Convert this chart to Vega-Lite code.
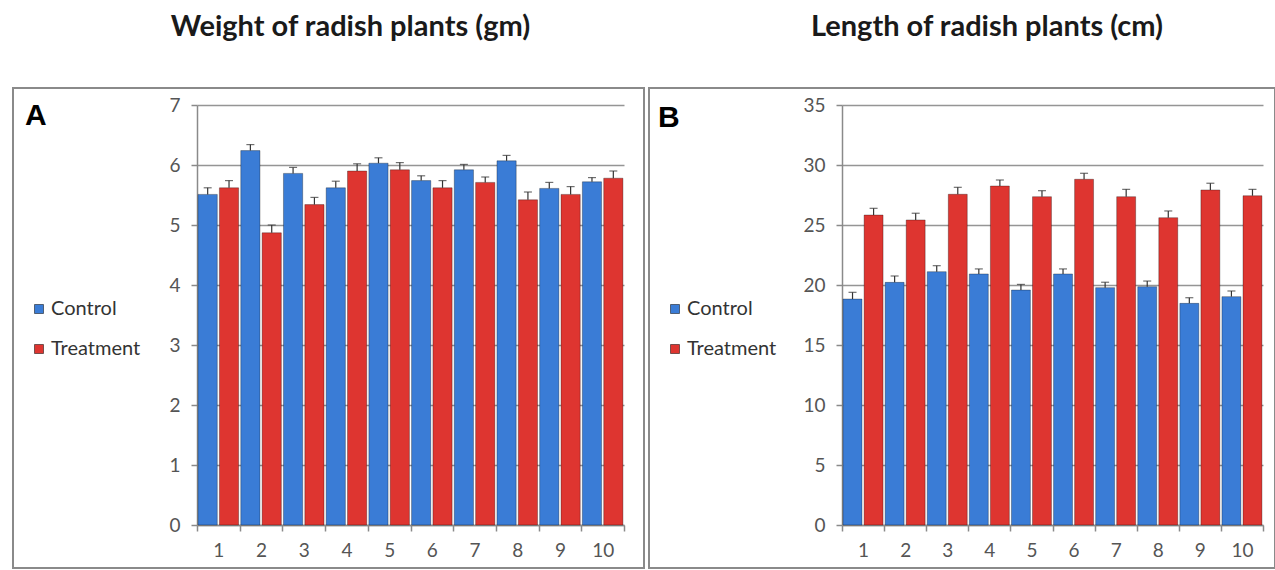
{
  "$schema": "https://vega.github.io/schema/vega-lite/v6.json",
  "padding": {"left": 12, "top": 12, "right": 0, "bottom": 0},
  "background": "white",
  "config": {
    "view": {"stroke": "#8a8a8a", "strokeWidth": 2},
    "font": "Lato",
    "axis": {"labelFont": "Lato", "labelFontSize": 19, "labelColor": "#555555", "domainColor": "#8a8a8a", "domainWidth": 1.5, "tickColor": "#8a8a8a", "tickWidth": 1.5, "tickSize": 6, "gridColor": "#959595", "gridWidth": 1.6}
  },
  "datasets": {
    "weight": [
      {"rep": 1, "group": "Control", "value": 5.51, "hi": 5.62},
      {"rep": 1, "group": "Treatment", "value": 5.62, "hi": 5.74},
      {"rep": 2, "group": "Control", "value": 6.24, "hi": 6.34},
      {"rep": 2, "group": "Treatment", "value": 4.87, "hi": 5.0},
      {"rep": 3, "group": "Control", "value": 5.86, "hi": 5.96},
      {"rep": 3, "group": "Treatment", "value": 5.34, "hi": 5.46},
      {"rep": 4, "group": "Control", "value": 5.62, "hi": 5.73},
      {"rep": 4, "group": "Treatment", "value": 5.9, "hi": 6.02},
      {"rep": 5, "group": "Control", "value": 6.03, "hi": 6.12},
      {"rep": 5, "group": "Treatment", "value": 5.92, "hi": 6.04},
      {"rep": 6, "group": "Control", "value": 5.74, "hi": 5.82},
      {"rep": 6, "group": "Treatment", "value": 5.62, "hi": 5.74},
      {"rep": 7, "group": "Control", "value": 5.92, "hi": 6.01},
      {"rep": 7, "group": "Treatment", "value": 5.71, "hi": 5.8},
      {"rep": 8, "group": "Control", "value": 6.07, "hi": 6.16},
      {"rep": 8, "group": "Treatment", "value": 5.42, "hi": 5.55},
      {"rep": 9, "group": "Control", "value": 5.61, "hi": 5.71},
      {"rep": 9, "group": "Treatment", "value": 5.51, "hi": 5.64},
      {"rep": 10, "group": "Control", "value": 5.72, "hi": 5.79},
      {"rep": 10, "group": "Treatment", "value": 5.78, "hi": 5.9}
    ],
    "length": [
      {"rep": 1, "group": "Control", "value": 18.83, "hi": 19.39},
      {"rep": 1, "group": "Treatment", "value": 25.83, "hi": 26.39},
      {"rep": 2, "group": "Control", "value": 20.22, "hi": 20.75},
      {"rep": 2, "group": "Treatment", "value": 25.42, "hi": 25.98},
      {"rep": 3, "group": "Control", "value": 21.11, "hi": 21.61},
      {"rep": 3, "group": "Treatment", "value": 27.56, "hi": 28.14},
      {"rep": 4, "group": "Control", "value": 20.92, "hi": 21.34},
      {"rep": 4, "group": "Treatment", "value": 28.25, "hi": 28.75},
      {"rep": 5, "group": "Control", "value": 19.58, "hi": 20.05},
      {"rep": 5, "group": "Treatment", "value": 27.36, "hi": 27.86},
      {"rep": 6, "group": "Control", "value": 20.92, "hi": 21.34},
      {"rep": 6, "group": "Treatment", "value": 28.81, "hi": 29.31},
      {"rep": 7, "group": "Control", "value": 19.78, "hi": 20.23},
      {"rep": 7, "group": "Treatment", "value": 27.36, "hi": 27.97},
      {"rep": 8, "group": "Control", "value": 19.86, "hi": 20.33},
      {"rep": 8, "group": "Treatment", "value": 25.61, "hi": 26.17},
      {"rep": 9, "group": "Control", "value": 18.47, "hi": 18.94},
      {"rep": 9, "group": "Treatment", "value": 27.92, "hi": 28.48},
      {"rep": 10, "group": "Control", "value": 19.03, "hi": 19.5},
      {"rep": 10, "group": "Treatment", "value": 27.44, "hi": 27.97}
    ]
  },
  "spacing": 5,
  "bounds": "flush",
  "resolve": {
    "scale": {"color": "independent", "x": "independent", "y": "independent", "xOffset": "independent"},
    "legend": {"color": "independent"},
    "axis": {"x": "independent", "y": "independent"}
  },
  "hconcat": [
    {
      "width": 631,
      "height": 480,
      "title": {"text": "Weight of radish plants (gm)", "font": "Lato", "fontSize": 29, "fontWeight": "bold", "color": "#1a1a1a", "offset": 46, "dx": 22, "anchor": "middle"},
      "data": {"name": "weight"},
      "encoding": {
        "x": {"field": "rep", "type": "ordinal", "scale": {"range": [184, 611], "paddingInner": 0, "paddingOuter": 0},
              "axis": {"orient": "bottom", "offset": -43, "labelAngle": 0, "tickBand": "extent", "labelPadding": 10, "labelFontSize": 19, "grid": false, "title": null}},
        "xOffset": {"field": "group", "type": "nominal", "scale": {"domain": ["Control", "Treatment"], "paddingInner": 0.1, "paddingOuter": 0.05}}
      },
      "layer": [
        {
          "mark": {"type": "bar", "stroke": "#000000", "strokeOpacity": 0.3, "strokeWidth": 1},
          "encoding": {
            "y": {"field": "value", "type": "quantitative", "scale": {"domain": [0, 7], "range": [437, 17], "nice": false, "zero": true},
                  "axis": {"orient": "left", "offset": -184, "values": [0, 1, 2, 3, 4, 5, 6, 7], "format": "d", "grid": true, "labelPadding": 11, "labelFontSize": 19, "title": null}},
            "color": {"field": "group", "type": "nominal", "scale": {"domain": ["Control", "Treatment"], "range": ["#3A7CD6", "#DE3530"]},
                      "legend": {"orient": "none", "legendX": 12, "legendY": 13, "title": "A", "titleFont": "Liberation Sans", "titleFontSize": 30, "titleFontWeight": "bold", "titleColor": "#000000", "titlePadding": 168, "titleBaseline": "top",
                                 "symbolType": "square", "symbolSize": 81, "symbolStrokeWidth": 0.5, "symbolOffset": 4, "labelFont": "Lato", "labelFontSize": 20, "labelColor": "#333333", "labelOffset": 2, "rowPadding": 20, "padding": 0}}
          }
        },
        {
          "mark": {"type": "rule", "color": "#333333", "strokeWidth": 1.2},
          "encoding": {"y": {"field": "value", "type": "quantitative"}, "y2": {"field": "hi"}}
        },
        {
          "mark": {"type": "tick", "color": "#333333", "thickness": 1.2, "size": 8, "orient": "horizontal"},
          "encoding": {"y": {"field": "hi", "type": "quantitative"}}
        }
      ]
    },
    {
      "width": 626,
      "height": 480,
      "title": {"text": "Length of radish plants (cm)", "font": "Lato", "fontSize": 29, "fontWeight": "bold", "color": "#1a1a1a", "offset": 46, "dx": 25, "anchor": "middle"},
      "data": {"name": "length"},
      "encoding": {
        "x": {"field": "rep", "type": "ordinal", "scale": {"range": [193, 614], "paddingInner": 0, "paddingOuter": 0},
              "axis": {"orient": "bottom", "offset": -43, "labelAngle": 0, "tickBand": "extent", "labelPadding": 10, "labelFontSize": 19, "grid": false, "title": null}},
        "xOffset": {"field": "group", "type": "nominal", "scale": {"domain": ["Control", "Treatment"], "paddingInner": 0.1, "paddingOuter": 0.05}}
      },
      "layer": [
        {
          "mark": {"type": "bar", "stroke": "#000000", "strokeOpacity": 0.3, "strokeWidth": 1},
          "encoding": {
            "y": {"field": "value", "type": "quantitative", "scale": {"domain": [0, 35], "range": [437, 17], "nice": false, "zero": true},
                  "axis": {"orient": "left", "offset": -193, "values": [0, 5, 10, 15, 20, 25, 30, 35], "format": "d", "grid": true, "labelPadding": 11, "labelFontSize": 19, "title": null}},
            "color": {"field": "group", "type": "nominal", "scale": {"domain": ["Control", "Treatment"], "range": ["#3A7CD6", "#DE3530"]},
                      "legend": {"orient": "none", "legendX": 9, "legendY": 15, "title": "B", "titleFont": "Liberation Sans", "titleFontSize": 30, "titleFontWeight": "bold", "titleColor": "#000000", "titlePadding": 166, "titleBaseline": "top",
                                 "symbolType": "square", "symbolSize": 81, "symbolStrokeWidth": 0.5, "symbolOffset": 7, "labelFont": "Lato", "labelFontSize": 20, "labelColor": "#333333", "labelOffset": 2, "rowPadding": 20, "padding": 0}}
          }
        },
        {
          "mark": {"type": "rule", "color": "#333333", "strokeWidth": 1.2},
          "encoding": {"y": {"field": "value", "type": "quantitative"}, "y2": {"field": "hi"}}
        },
        {
          "mark": {"type": "tick", "color": "#333333", "thickness": 1.2, "size": 8, "orient": "horizontal"},
          "encoding": {"y": {"field": "hi", "type": "quantitative"}}
        }
      ]
    }
  ]
}
